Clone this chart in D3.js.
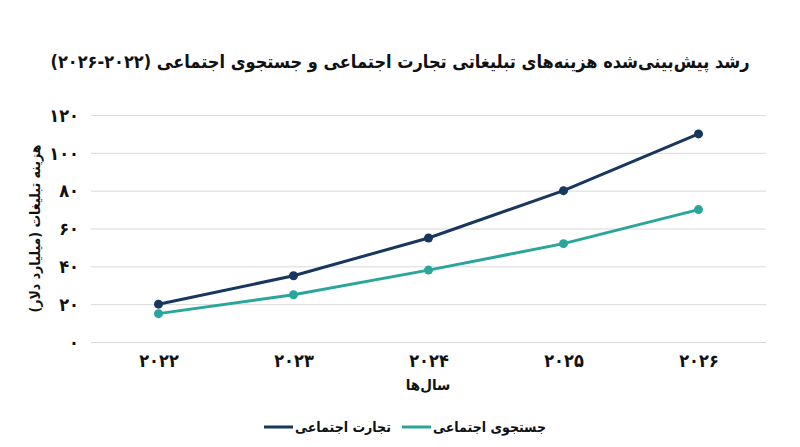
<!DOCTYPE html>
<html>
<head>
<meta charset="utf-8">
<script src="https://cdn.jsdelivr.net/npm/d3@7"></script>
<style>
  body { margin: 0; background: #fff; }
  text { font-family: "DejaVu Sans Condensed", "DejaVu Sans", sans-serif; fill: #111; }
  .grid line { stroke: #d9d9d9; stroke-width: 1; }
  .tick text { font-weight: bold; font-size: 18px; }
</style>
</head>
<body>
<div id="chart"></div>
<script>
// data
var years = ["2022", "2023", "2024", "2025", "2026"];
var yearLabels = ["۲۰۲۲", "۲۰۲۳", "۲۰۲۴", "۲۰۲۵", "۲۰۲۶"];
var socialCommerce = [20, 35, 55, 80, 110];
var socialSearch = [15, 25, 38, 52, 70];
var yTicks = [0, 20, 40, 60, 80, 100, 120];
var seriesNames = ["تجارت اجتماعی", "جستجوی اجتماعی"];
var seriesColors = ["#17375e", "#2aa59c"];

var svgWidth = 800, svgHeight = 447;
var margin = { top: 115, bottom: 105, left: 91, right: 34 };
var width = svgWidth - margin.left - margin.right;
var height = svgHeight - margin.top - margin.bottom;

var toFa = function(n) {
  return String(n).replace(/\d/g, function(d) { return "۰۱۲۳۴۵۶۷۸۹"[+d]; });
};

var svg = d3.select("#chart").append("svg")
  .attr("width", svgWidth).attr("height", svgHeight);

var chartGroup = svg.append("g")
  .attr("transform", `translate(${margin.left}, ${margin.top})`);

var x = d3.scalePoint().domain(years).range([0, width]).padding(0.5);
var y = d3.scaleLinear().domain([0, 120]).range([height, 0]);

// gridlines + y labels
var yAxis = chartGroup.append("g").attr("class", "grid")
  .call(d3.axisLeft(y).tickValues(yTicks).tickSize(-width).tickFormat(toFa));
yAxis.select(".domain").remove();
yAxis.selectAll(".tick text").attr("x", -12).attr("dy", "0.35em");

// x labels
var xAxis = chartGroup.append("g")
  .attr("transform", `translate(0, ${height})`)
  .call(d3.axisBottom(x).tickSize(0).tickFormat((d, i) => yearLabels[i]));
xAxis.select(".domain").remove();
xAxis.selectAll(".tick text").attr("y", 12);

var series = [socialCommerce, socialSearch];
var line = d3.line().x((d, i) => x(years[i])).y(d => y(d));

series.forEach(function(vals, s) {
  chartGroup.append("path")
    .datum(vals)
    .attr("fill", "none")
    .attr("stroke", seriesColors[s])
    .attr("stroke-width", 3)
    .attr("d", line);
  chartGroup.selectAll(".pt" + s)
    .data(vals)
    .enter()
    .append("circle")
    .attr("cx", (d, i) => x(years[i]))
    .attr("cy", d => y(d))
    .attr("r", 4.5)
    .attr("fill", seriesColors[s]);
});

// title
svg.append("text")
  .attr("x", 400).attr("y", 68)
  .attr("text-anchor", "middle")
  .attr("direction", "rtl")
  .style("font-size", "18px").style("font-weight", "bold")
  .text("رشد پیش‌بینی‌شده هزینه‌های تبلیغاتی تجارت اجتماعی و جستجوی اجتماعی (۲۰۲۲-۲۰۲۶)");

// axis titles
svg.append("text")
  .attr("transform", `translate(40, ${margin.top + height / 2}) rotate(-90)`)
  .attr("text-anchor", "middle")
  .attr("direction", "rtl")
  .style("font-size", "14px").style("font-weight", "bold")
  .text("هزینه تبلیغات (میلیارد دلار)");

svg.append("text")
  .attr("x", 428).attr("y", 390)
  .attr("text-anchor", "middle")
  .attr("direction", "rtl")
  .style("font-size", "15px").style("font-weight", "bold")
  .text("سال‌ها");

// legend
var legend = [
  { name: seriesNames[0], color: seriesColors[0], x: 264 },
  { name: seriesNames[1], color: seriesColors[1], x: 402 }
];
legend.forEach(function(l) {
  svg.append("line")
    .attr("x1", l.x).attr("x2", l.x + 29)
    .attr("y1", 427).attr("y2", 427)
    .attr("stroke", l.color).attr("stroke-width", 3);
  svg.append("text")
    .attr("x", l.x + 31).attr("y", 432)
    .attr("text-anchor", "end")
    .attr("direction", "rtl")
    .style("font-size", "14px").style("font-weight", "bold")
    .text(l.name);
});
</script>
</body>
</html>
